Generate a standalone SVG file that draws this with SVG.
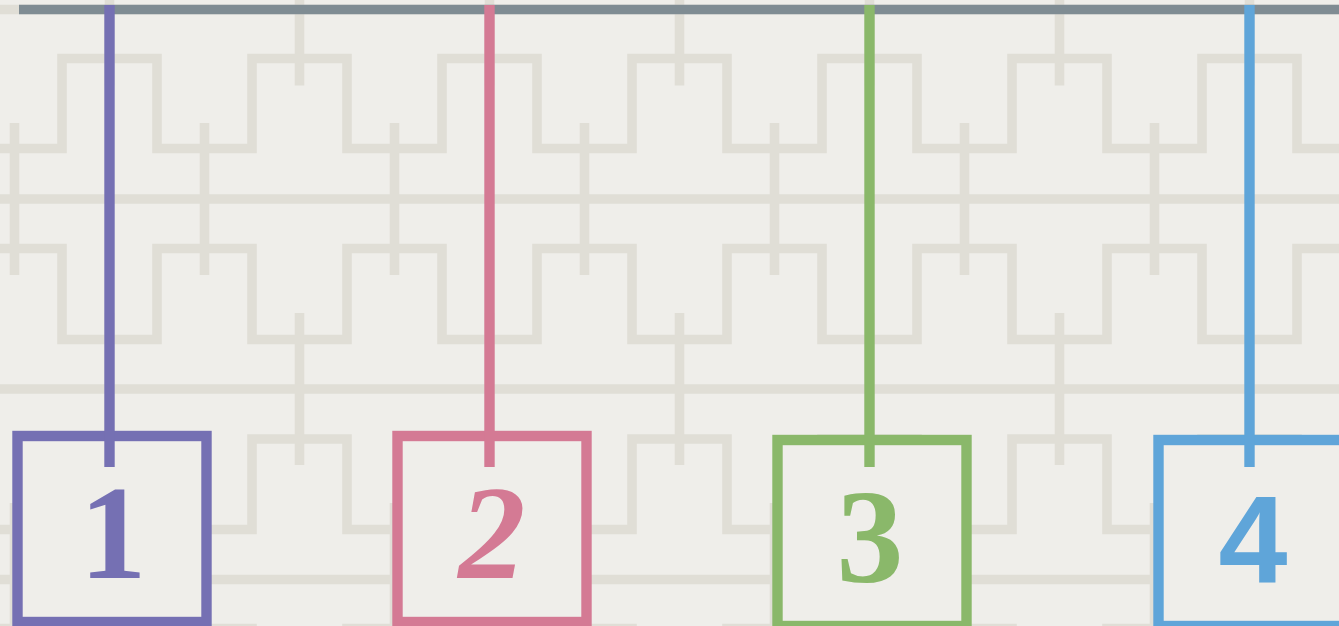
<svg xmlns="http://www.w3.org/2000/svg" width="1339" height="626" viewBox="0 0 1339 626">
<style>
.bg{fill:#efeeea}
.pat{fill:none;stroke:#e0ded6;stroke-width:9.6;stroke-linecap:butt;stroke-linejoin:miter}
.bar{stroke:#7f8c93;stroke-width:9.5}
.conn{stroke-width:10.4;fill:none}
.box{fill:#efeeea;stroke-width:10.4}
.num{font-family:"Liberation Serif","DejaVu Serif",serif;font-weight:bold;font-size:134px;text-anchor:middle}
.c1{stroke:#7570b3}.t1{fill:#7570b3}
.c2{stroke:#d47a94}.t2{fill:#d47a94}
.c3{stroke:#8ab86a}.t3{fill:#8ab86a}
.c4{stroke:#5fa5d9}.t4{fill:#5fa5d9}
</style>
<rect class="bg" x="0" y="0" width="1339" height="626"/>
<g id="lattice" class="pat">
<path d="M0 9.5H1339M0 199H1339M0 389H1339M0 579.5H1339"/>
<path d="M-33 148.5H62V58.5H157V148.5H252V58.5H347V148.5H442V58.5H537V148.5H632V58.5H727V148.5H822V58.5H917V148.5H1012V58.5H1107V148.5H1202V58.5H1297V148.5H1392"/>
<path d="M-33 248.5H62V339.5H157V248.5H252V339.5H347V248.5H442V339.5H537V248.5H632V339.5H727V248.5H822V339.5H917V248.5H1012V339.5H1107V248.5H1202V339.5H1297V248.5H1392"/>
<path d="M-33 529.5H62V439H157V529.5H252V439H347V529.5H442V439H537V529.5H632V439H727V529.5H822V439H917V529.5H1012V439H1107V529.5H1202V439H1297V529.5H1392"/>
<path d="M-33 628.5H62V720H157V628.5H252V720H347V628.5H442V720H537V628.5H632V720H727V628.5H822V720H917V628.5H1012V720H1107V628.5H1202V720H1297V628.5H1392"/>
<path d="M109.5 -67V85.5M299.5 -67V85.5M489.5 -67V85.5M679.5 -67V85.5M869.5 -67V85.5M1059.5 -67V85.5M1249.5 -67V85.5"/>
<path d="M14.5 123V275M204.5 123V275M394.5 123V275M584.5 123V275M774.5 123V275M964.5 123V275M1154.5 123V275M1344.5 123V275"/>
<path d="M109.5 313V465M299.5 313V465M489.5 313V465M679.5 313V465M869.5 313V465M1059.5 313V465M1249.5 313V465"/>
<path d="M14.5 503V655M204.5 503V655M394.5 503V655M584.5 503V655M774.5 503V655M964.5 503V655M1154.5 503V655M1344.5 503V655"/>
</g>
<g id="node-1">
<rect class="box c1" x="17.5" y="436" width="189" height="186"/>
<text class="num t1" x="113" y="578">1</text>
</g>
<g id="node-2">
<rect class="box c2" x="397.5" y="436" width="189" height="186"/>
<text class="num t2" x="492" y="578" font-style="italic">2</text>
</g>
<g id="node-3">
<rect class="box c3" x="777.5" y="440" width="189" height="186"/>
<text class="num t3" x="870" y="582">3</text>
</g>
<g id="node-4">
<rect class="box c4" x="1158.5" y="440" width="189" height="186"/>
<text class="num t4" x="1253" y="582" style="font-family:'Liberation Sans','Arial',sans-serif;font-size:124px">4</text>
</g>
<g id="connectors">
<line class="bar" x1="19" y1="9.5" x2="1339" y2="9.5"/>
<line class="conn c1" x1="109.5" y1="5" x2="109.5" y2="467"/>
<line class="conn c2" x1="489.5" y1="5" x2="489.5" y2="467"/>
<line class="conn c3" x1="869.5" y1="5" x2="869.5" y2="467"/>
<line class="conn c4" x1="1249.5" y1="5" x2="1249.5" y2="467"/>
</g>
</svg>
